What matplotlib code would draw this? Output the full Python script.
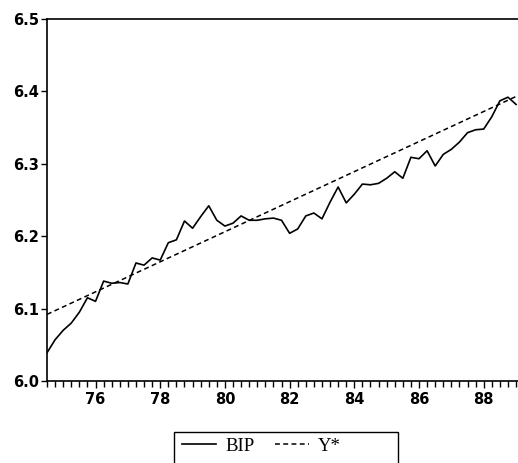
import matplotlib.pyplot as plt
from matplotlib.ticker import MultipleLocator, FixedLocator
from matplotlib.patches import Rectangle
import numpy as np

# Quarterly log real GDP, 1974Q3 - 1989Q1
start_year = 74.5
bip = [6.039, 6.057, 6.070, 6.080, 6.095, 6.115, 6.110, 6.138, 6.135, 6.136,
       6.134, 6.163, 6.160, 6.170, 6.167, 6.191, 6.195, 6.221, 6.211, 6.227,
       6.242, 6.222, 6.214, 6.218, 6.228, 6.222, 6.222, 6.224, 6.225, 6.222,
       6.204, 6.210, 6.228, 6.232, 6.224, 6.247, 6.268, 6.246, 6.258, 6.272,
       6.271, 6.273, 6.280, 6.289, 6.280, 6.309, 6.307, 6.318, 6.297, 6.313,
       6.320, 6.330, 6.343, 6.347, 6.348, 6.365, 6.387, 6.392, 6.382]
# linear trend (Y*), first and last quarter
ystar = [6.092, 6.393]

year_ticks = [76, 78, 80, 82, 84, 86, 88]
year_labels = ['76', '78', '80', '82', '84', '86', '88']
y_ticks = [6.0, 6.1, 6.2, 6.3, 6.4, 6.5]

t = start_year + 0.25 * np.arange(len(bip))
t_star = [t[0], t[-1]]

fig = plt.figure(figsize=(5.18, 4.63), dpi=100)
ax = fig.add_axes([47 / 518, 1 - 381 / 463, 1 - 47 / 518, (381 - 19) / 463])

ax.plot(t, bip, color='black', linewidth=1.2, label='BIP')
ax.plot(t_star, ystar, color='black', linewidth=1.1,
        linestyle=(0, (3.2, 2.2)), label='Y*')

ax.set_xlim(t[0], 89.06)
ax.set_ylim(6.0, 6.5)

ax.spines['right'].set_visible(False)
for s in ['left', 'top', 'bottom']:
    ax.spines[s].set_linewidth(1.2)

ax.xaxis.set_major_locator(FixedLocator(year_ticks))
ax.set_xticklabels(year_labels)
ax.xaxis.set_minor_locator(MultipleLocator(0.25))
ax.set_yticks(y_ticks)
ax.set_yticklabels(['%.1f' % v for v in y_ticks])

ax.tick_params(axis='x', which='major', direction='out', length=5, width=1,
               pad=3, labelsize=10.5)
ax.tick_params(axis='x', which='minor', direction='out', length=4, width=1)
ax.tick_params(axis='y', direction='out', length=4, width=1, pad=2, labelsize=10.5)
for lbl in ax.get_xticklabels() + ax.get_yticklabels():
    lbl.set_fontweight('bold')
    lbl.set_family('DejaVu Sans')

# legend below the plot, with its own box
fig.patches.append(Rectangle((174 / 518, -0.02), (398 - 174) / 518, 0.02 + 1 - 432 / 463,
                             transform=fig.transFigure, fill=False,
                             edgecolor='black', linewidth=1.0))
fig.legend(loc='center left', bbox_to_anchor=(182 / 518, 1 - 446 / 463),
           ncol=2, frameon=False, borderpad=0, borderaxespad=0,
           handlelength=1.8, handletextpad=0.5, columnspacing=1.1,
           prop={'family': 'Liberation Serif', 'size': 13.5})

plt.savefig('out.png', dpi=100)
